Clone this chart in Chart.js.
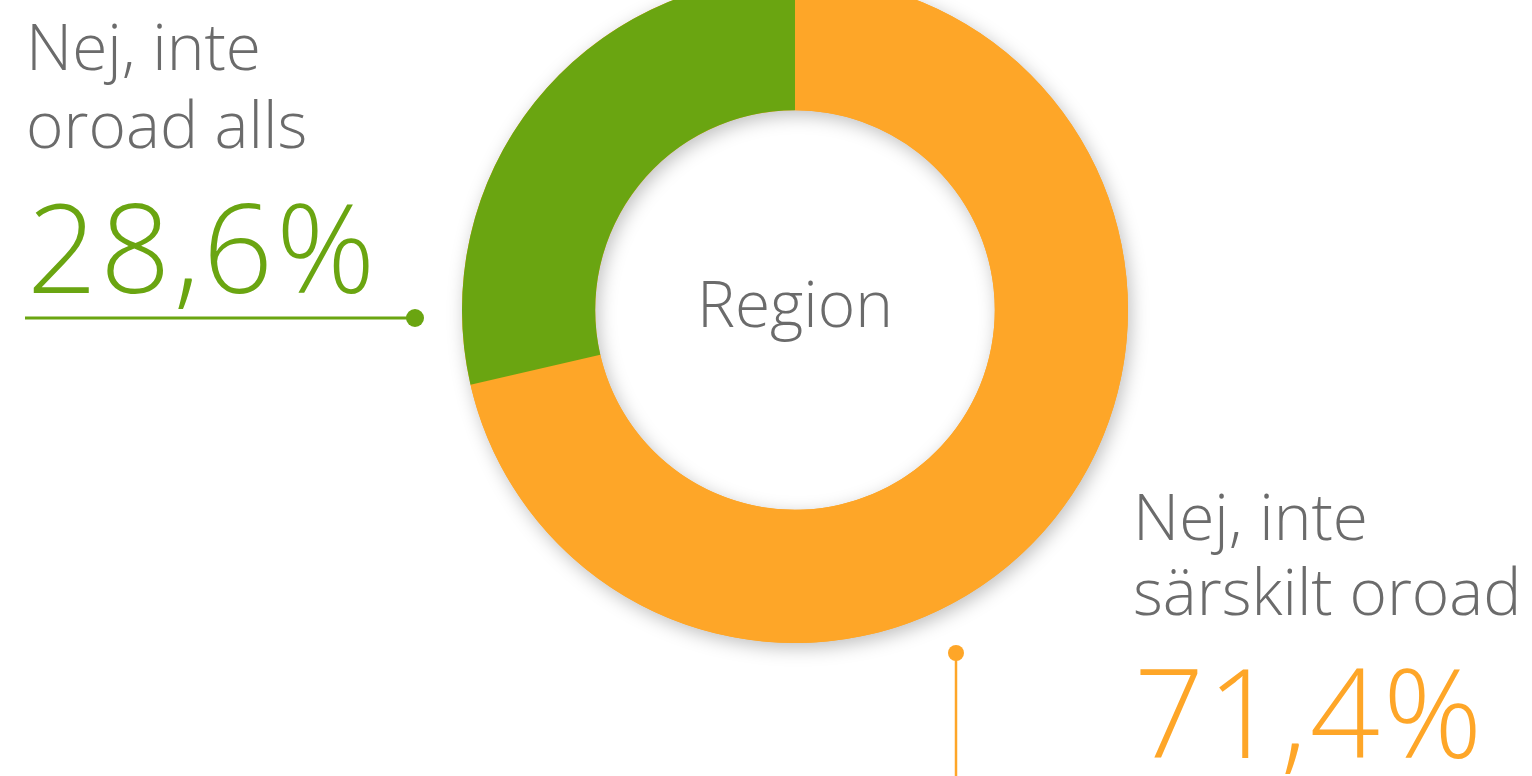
<!DOCTYPE html>
<html lang="sv">
<head>
  <meta charset="UTF-8" />
  <title>Region</title>
  <script src="https://cdn.jsdelivr.net/npm/chart.js"></script>
  <style>
    html, body {
      margin: 0;
      width: 1532px;
      height: 776px;
      overflow: hidden;
      background: #ffffff;
      font-family: 'Open Sans', sans-serif;
    }
    .wrap {
      position: absolute;
      left: 0;
      top: -60px;
      width: 1532px;
      height: 836px;
    }
  </style>
</head>
<body>
  <div class="wrap"><canvas id="donut"></canvas></div>

  <script>
    const categories = ['Nej, inte särskilt oroad', 'Nej, inte oroad alls'];
    const shares = [71.4, 28.6];
    const colors = ['#fea628', '#6aa511'];
    const centerTitle = 'Region';

    const TEXT_GREY = '#6b6b6b';
    const SHIFT = 60; // canvas sits 60px above the page top

    function pct(v) {
      return v.toFixed(1).replace('.', ',') + '%';
    }

    // soft drop shadow behind the whole ring
    const ringShadow = {
      id: 'ringShadow',
      beforeDatasetsDraw(chart) {
        const arc = chart.getDatasetMeta(0).data[0];
        if (!arc) return;
        const { x, y, innerRadius, outerRadius } = arc.getProps(['x', 'y', 'innerRadius', 'outerRadius'], true);
        const ctx = chart.ctx;
        ctx.save();
        ctx.shadowColor = 'rgba(0,0,0,0.25)';
        ctx.shadowBlur = 18;
        ctx.shadowOffsetX = 3;
        ctx.shadowOffsetY = 5;
        ctx.fillStyle = colors[0];
        ctx.beginPath();
        ctx.arc(x, y, outerRadius, 0, Math.PI * 2, false);
        ctx.arc(x, y, innerRadius, 0, Math.PI * 2, true);
        ctx.closePath();
        ctx.fill();
        ctx.restore();
      }
    };

    const labels = {
      id: 'labels',
      afterDraw(chart) {
        const ctx = chart.ctx;
        const arc = chart.getDatasetMeta(0).data[0];
        const { x: cx, y: cy, outerRadius: r } = arc.getProps(['x', 'y', 'outerRadius'], true);
        ctx.save();

        // centre title
        ctx.fillStyle = TEXT_GREY;
        ctx.font = '300 64px "Open Sans"';
        ctx.textAlign = 'center';
        ctx.textBaseline = 'alphabetic';
        ctx.fillText(centerTitle, cx, cy + 17);

        ctx.textAlign = 'left';

        // left label (green)
        ctx.font = '300 64px "Open Sans"';
        ctx.fillText('Nej, inte', 26, 70 + SHIFT);
        ctx.fillText('oroad alls', 26, 148 + SHIFT);
        ctx.fillStyle = colors[1];
        ctx.font = '300 123px "Open Sans"';
        ctx.letterSpacing = '3px';
        ctx.fillText(pct(shares[1]), 27, 293 + SHIFT);
        ctx.letterSpacing = '0px';

        ctx.strokeStyle = colors[1];
        ctx.lineWidth = 3;
        const gy = cy + 8;
        const gx = cx - r - 47;
        ctx.beginPath();
        ctx.moveTo(25, gy);
        ctx.lineTo(gx, gy);
        ctx.stroke();
        ctx.fillStyle = colors[1];
        ctx.beginPath();
        ctx.arc(gx, gy, 9, 0, Math.PI * 2);
        ctx.fill();

        // right label (orange)
        ctx.fillStyle = TEXT_GREY;
        ctx.font = '300 64px "Open Sans"';
        ctx.fillText('Nej, inte', 1133, 540 + SHIFT);
        ctx.fillText('särskilt oroad', 1133, 615 + SHIFT);
        ctx.fillStyle = colors[0];
        ctx.font = '300 123px "Open Sans"';
        ctx.letterSpacing = '3px';
        ctx.fillText(pct(shares[0]), 1134, 758 + SHIFT);
        ctx.letterSpacing = '0px';

        const ox = cx + 161;
        const oy = cy + r + 10;
        ctx.strokeStyle = colors[0];
        ctx.lineWidth = 2.5;
        ctx.beginPath();
        ctx.moveTo(ox, oy);
        ctx.lineTo(ox, chart.height);
        ctx.stroke();
        ctx.fillStyle = colors[0];
        ctx.beginPath();
        ctx.arc(ox, oy, 8, 0, Math.PI * 2);
        ctx.fill();

        ctx.restore();
      }
    };

    new Chart(document.getElementById('donut'), {
      type: 'doughnut',
      data: {
        labels: categories,
        datasets: [{
          data: shares,
          backgroundColor: colors,
          borderWidth: 0,
          hoverOffset: 0
        }]
      },
      options: {
        responsive: true,
        maintainAspectRatio: false,
        animation: false,
        cutout: '60%',
        rotation: 0,
        layout: { padding: { left: 462, right: 404, top: 37, bottom: 133 } },
        plugins: {
          legend: { display: false },
          tooltip: { enabled: false }
        }
      },
      plugins: [ringShadow, labels]
    });
  </script>
</body>
</html>
